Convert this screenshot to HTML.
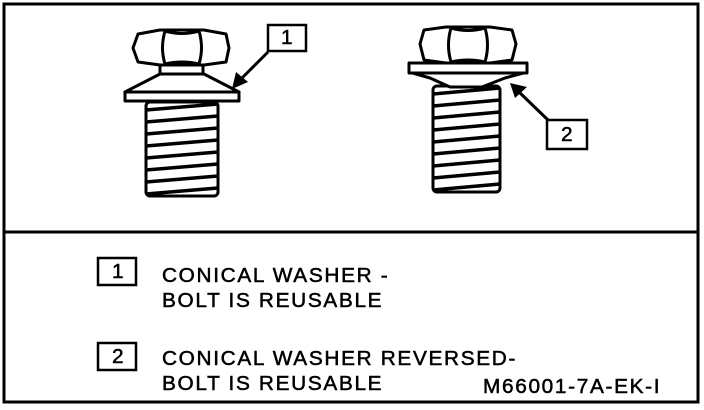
<!DOCTYPE html>
<html><head><style>
html,body{margin:0;padding:0;background:#fff;}
body{width:704px;height:410px;overflow:hidden;position:relative;font-family:"Liberation Sans",sans-serif;}
.t{position:absolute;font-size:20px;color:#000;line-height:1;white-space:nowrap;letter-spacing:1.6px;-webkit-text-stroke:0.5px #000;transform-origin:0 0;transform:scaleX(1.04);}
</style></head><body>
<svg width="704" height="410" style="position:absolute;left:0;top:0" xmlns="http://www.w3.org/2000/svg">
<rect x="4" y="4" width="694" height="398" fill="none" stroke="#000" stroke-width="3"/>
<line x1="4" y1="232" x2="698" y2="232" stroke="#000" stroke-width="3"/>
<g fill="#fff" stroke="#000" stroke-width="3" stroke-linejoin="round">
<rect x="146" y="102" width="72" height="94" rx="4"/>
<g stroke-width="3.5">
<path d="M146 110 L218 104 M146 122 L218 116 M146 134 L218 128 M146 146 L218 140 M146 158 L218 152 M146 170 L218 164 M146 182 L218 176 M146 194 L218 188"/>
</g>
<path d="M125 92 L160 74 L204 74 L239 92 Z"/>
<rect x="125" y="92" width="114" height="9"/>
<rect x="160" y="64" width="43" height="10"/>
<path d="M138 34 L160 30 L204 30 L226 34 L229 48 L226 62 L204 65 L160 65 L138 62 L133 48 Z"/>
<path d="M165 31 Q160 48 165 64 M199 31 Q204 48 199 64 M165 31 Q182 36 199 31 M165 64 Q182 60 199 64" fill="none"/>
<rect x="433" y="86" width="67" height="106" rx="4"/>
<g stroke-width="3.5">
<path d="M433 94 L500 88 M433 106 L500 100 M433 118 L500 112 M433 130 L500 124 M433 142 L500 136 M433 154 L500 148 M433 166 L500 160 M433 178 L500 172 M433 190 L500 184"/>
</g>
<path d="M409 72 L527 72 L505 78 L482 87 L450 87 L430 78 Z"/>
<rect x="409" y="63" width="118" height="10"/>
<path d="M424 30 L446 27 L490 27 L512 30 L516 44 L512 60 L490 63 L446 63 L424 60 L420 44 Z"/>
<path d="M451 28 Q446 45 451 62 M485 28 Q490 45 485 62 M451 28 Q468 33 485 28 M451 62 Q468 58 485 62" fill="none"/>
</g>
<rect x="268" y="25" width="38" height="26" fill="#fff" stroke="#000" stroke-width="2.5"/>
<line x1="268" y1="52" x2="240" y2="80" stroke="#000" stroke-width="3"/>
<path d="M232 89 L236 72 L248 82 Z" fill="#000"/>
<rect x="547" y="120" width="40" height="29" fill="#fff" stroke="#000" stroke-width="2.5"/>
<line x1="548" y1="120" x2="518" y2="91" stroke="#000" stroke-width="3"/>
<path d="M510 83 L527 87 L515 98 Z" fill="#000"/>
<rect x="98" y="258" width="38" height="27" fill="#fff" stroke="#000" stroke-width="2.5"/>
<rect x="98" y="343" width="38" height="27" fill="#fff" stroke="#000" stroke-width="2.5"/>
</svg>
<div class="t" style="left:281px;top:28px">1</div>
<div class="t" style="left:561px;top:125px">2</div>
<div class="t" style="left:112px;top:262px">1</div>
<div class="t" style="left:112px;top:347px">2</div>
<div class="t" style="left:162px;top:266px">CONICAL WASHER -</div>
<div class="t" style="left:162px;top:291px">BOLT IS REUSABLE</div>
<div class="t" style="left:162px;top:349px">CONICAL WASHER REVERSED-</div>
<div class="t" style="left:162px;top:374px">BOLT IS REUSABLE</div>
<div class="t" style="left:483px;top:377px;letter-spacing:1.6px">M66001-7A-EK-I</div>
</body></html>
